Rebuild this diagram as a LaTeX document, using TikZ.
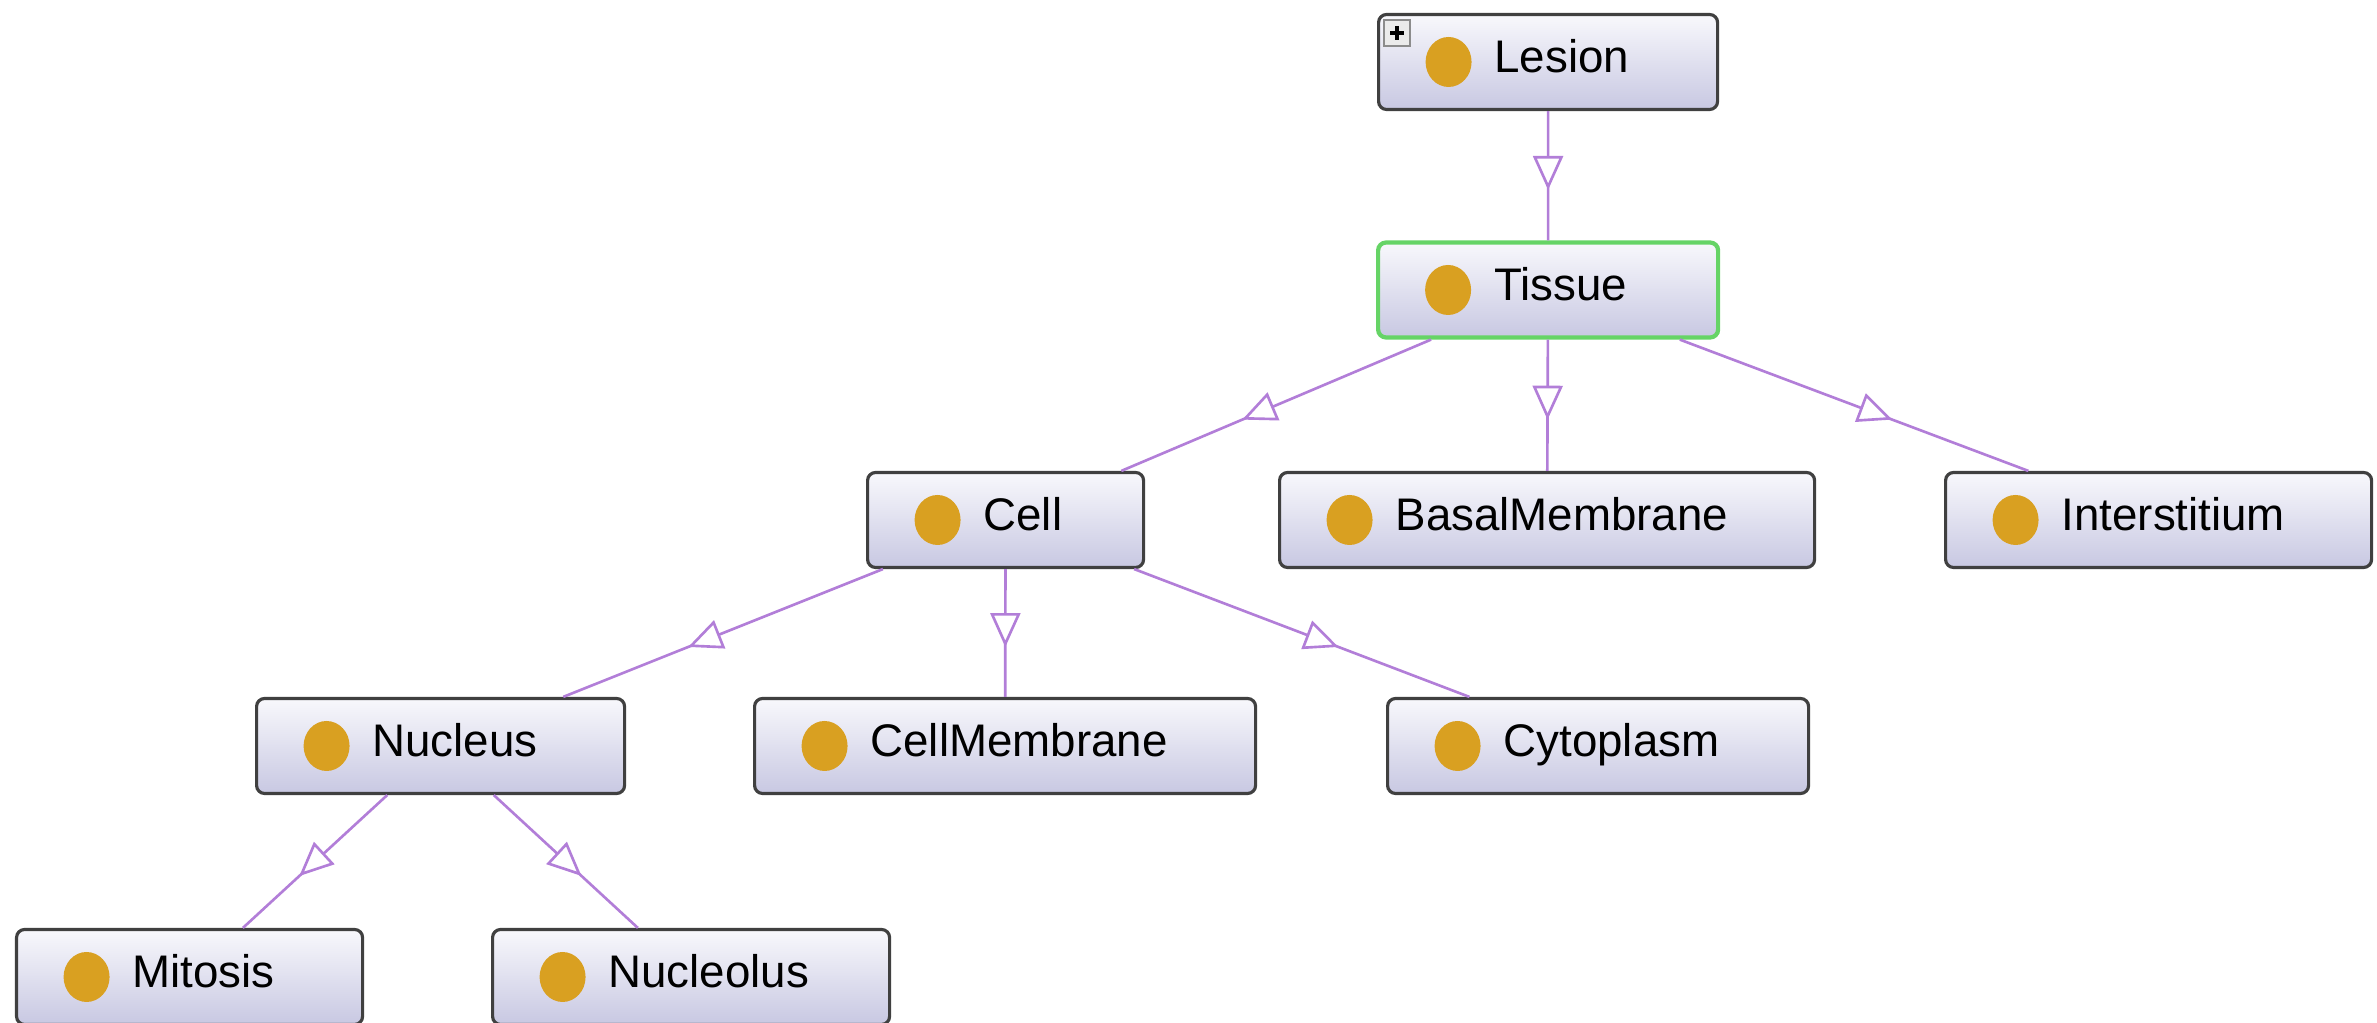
\documentclass[tikz,border=0pt]{standalone}
\usepackage{fontspec}
\setmainfont{Liberation Sans}
\usetikzlibrary{arrows.meta,decorations.markings}

\definecolor{isacol}{RGB}{178,126,216}
\definecolor{dotcol}{RGB}{217,160,33}
\definecolor{topcol}{RGB}{248,248,252}
\definecolor{botcol}{RGB}{200,200,226}
\definecolor{selcol}{RGB}{102,212,102}

\begin{document}
\begin{tikzpicture}[
	cls/.style={rectangle, rounded corners=0.08cm, draw=black!75, line width=0.9pt,
		top color=topcol, bottom color=botcol, minimum height=0.95cm,
		inner xsep=0pt, anchor=west, text width=#1, align=left,
		text height=0.31cm, text depth=0.10cm,
		font=\fontsize{13}{15}\selectfont,
		path picture={\fill[dotcol] ([xshift=0.70cm]path picture bounding box.west) ellipse (0.23cm and 0.25cm);}},
	sel/.style={draw=selcol, line width=1.2pt},
	isa/.style={draw=isacol, line width=0.75pt, postaction={decorate},
		decoration={markings, mark=at position 0.61 with
			{\arrow{Triangle[length=0.34cm, width=0.30cm, fill=white, line width=0.75pt]}}}}
]
	\useasboundingbox (0,0) rectangle (23.77,-10.23);
	\clip (0,0) rectangle (23.77,-10.23);
	% classes
	\node[cls=3.39cm] (lesion) at (13.77,-0.62) {\hspace*{1.16cm}Lesion};
	\node[cls=3.40cm, sel] (tissue) at (13.76,-2.90) {\hspace*{1.16cm}Tissue};
	\node[cls=2.76cm] (cell) at (8.66,-5.20) {\hspace*{1.16cm}Cell};
	\node[cls=5.35cm] (basal) at (12.78,-5.20) {\hspace*{1.16cm}BasalMembrane};
	\node[cls=4.26cm] (inter) at (19.44,-5.20) {\hspace*{1.16cm}Interstitium};
	\node[cls=3.68cm] (nucleus) at (2.55,-7.46) {\hspace*{1.16cm}Nucleus};
	\node[cls=5.01cm] (cellmem) at (7.53,-7.46) {\hspace*{1.16cm}CellMembrane};
	\node[cls=4.21cm] (cyto) at (13.86,-7.46) {\hspace*{1.16cm}Cytoplasm};
	\node[cls=3.46cm] (mitosis) at (0.15,-9.77) {\hspace*{1.16cm}Mitosis};
	\node[cls=3.97cm] (nucleolus) at (4.91,-9.77) {\hspace*{1.16cm}Nucleolus};
	% expand box on Lesion
	\draw[black!45, fill=black!8, line width=0.6pt] (13.84,-0.20) rectangle (14.10,-0.46);
	\draw[black, line width=1.4pt] (13.90,-0.33) -- (14.04,-0.33) (13.97,-0.26) -- (13.97,-0.40);
	% subclass links
	\draw[isa] (lesion) -- (tissue);
	\foreach \c in {cell,basal,inter} \draw[isa] (tissue) -- (\c);
	\foreach \c in {nucleus,cellmem,cyto} \draw[isa] (cell) -- (\c);
	\foreach \c in {mitosis,nucleolus} \draw[isa] (nucleus) -- (\c);
\end{tikzpicture}
\end{document}
